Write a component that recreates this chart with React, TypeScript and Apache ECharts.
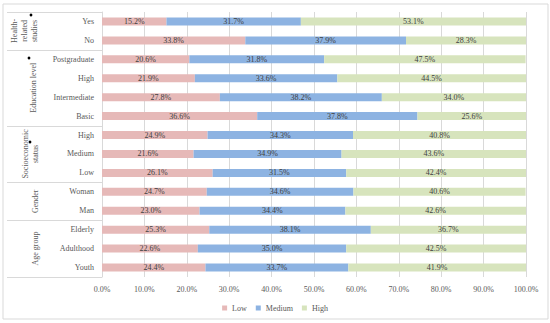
import React, { useEffect, useRef } from "react";
import * as echarts from "echarts";

const categories = [
  "Yes", "No",
  "Postgraduate", "High", "Intermediate", "Basic",
  "High", "Medium", "Low",
  "Woman", "Man",
  "Elderly", "Adulthood", "Youth",
];
const lowValues = [15.2, 33.8, 20.6, 21.9, 27.8, 36.6, 24.9, 21.6, 26.1, 24.7, 23.0, 25.3, 22.6, 24.4];
const mediumValues = [31.7, 37.9, 31.8, 33.6, 38.2, 37.8, 34.3, 34.9, 31.5, 34.6, 34.4, 38.1, 35.0, 33.7];
const highValues = [53.1, 28.3, 47.5, 44.5, 34.0, 25.6, 40.8, 43.6, 42.4, 40.6, 42.6, 36.7, 42.5, 41.9];
const seriesNames = ["Low", "Medium", "High"];
const groupNames = ["Health-\nrelated\nstudies", "Education level", "Socioeconomic\nstatus", "Gender", "Age group"];
const groupStarts = [0, 2, 6, 9, 11, 14];
const groupMarked = [true, true, true, false, false];
const xTicks = [0, 10, 20, 30, 40, 50, 60, 70, 80, 90, 100];

const FONT = "'Liberation Serif', 'Times New Roman', serif";
const COLORS = ["#e6b9b8", "#8db3e2", "#d7e4bd"];

export default function App() {
  const ref = useRef<HTMLDivElement>(null);
  useEffect(() => {
    if (!ref.current) return;
    const chart = echarts.init(ref.current, undefined, { renderer: "svg" });
    const W = 550, H = 323;
    const top = 12, bottom = 277, left = 102, right = 526;
    const band = (bottom - top) / categories.length;

    const graphics: any[] = [];
    graphics.push({
      type: "rect", shape: { x: 3, y: 4, width: 545, height: 315 },
      style: { fill: "none", stroke: "#d9d9d9", lineWidth: 1 }, silent: true,
    });
    groupStarts.forEach((k) => {
      const y = Math.round(top + k * band) + 0.5;
      graphics.push({
        type: "line", shape: { x1: 7, y1: y, x2: left, y2: y },
        style: { stroke: "#d9d9d9", lineWidth: 1 }, silent: true,
      });
    });
    const labelX = [24, 33, 30, 35, 35];
    const dotPos = [[31, 15], [29, 58], [30, 142]];
    groupNames.forEach((name, gi) => {
      const yc = top + ((groupStarts[gi] + groupStarts[gi + 1]) / 2) * band;
      graphics.push({
        type: "text", x: labelX[gi], y: yc, rotation: Math.PI / 2, silent: true,
        style: {
          text: name, fill: "#595959", font: `8px ${FONT}`,
          align: "center", verticalAlign: "middle", lineHeight: 10,
        },
      });
      if (groupMarked[gi]) {
        const [dx, dy] = dotPos[gi];
        graphics.push({
          type: "circle", shape: { cx: dx, cy: dy, r: 1.4 },
          style: { fill: "#000" }, silent: true,
        });
      }
    });

    const valueLists = [lowValues, mediumValues, highValues];
    chart.setOption({
      animation: false,
      textStyle: { fontFamily: FONT },
      grid: { left, right: W - right, top, bottom: H - bottom, containLabel: false },
      legend: {
        data: seriesNames, bottom: 6, left: "center", icon: "rect",
        itemWidth: 5, itemHeight: 5, itemGap: 9,
        textStyle: { fontSize: 8, color: "#595959", fontFamily: FONT },
      },
      xAxis: {
        type: "value", min: xTicks[0], max: xTicks[xTicks.length - 1], interval: 10,
        axisLine: { show: false }, axisTick: { show: false },
        splitLine: { lineStyle: { color: "#d9d9d9" } },
        axisLabel: {
          fontSize: 8, color: "#595959", margin: 8, fontFamily: FONT,
          formatter: (v: number) => `${v.toFixed(1)}%`,
        },
      },
      yAxis: {
        type: "category", data: categories, inverse: true,
        axisLine: { show: true, lineStyle: { color: "#d9d9d9" } },
        axisTick: { show: false },
        axisLabel: { fontSize: 8, color: "#595959", margin: 8, fontFamily: FONT },
      },
      series: seriesNames.map((name, si) => ({
        name, type: "bar", stack: "total", barWidth: 8,
        data: valueLists[si],
        itemStyle: { color: COLORS[si] },
        label: {
          show: true, position: "inside", fontSize: 8, color: "#404040", fontFamily: FONT,
          formatter: (p: any) => `${Number(p.value).toFixed(1)}%`,
        },
      })),
      graphic: graphics,
    });
    return () => chart.dispose();
  }, []);
  return <div ref={ref} style={{ width: 550, height: 323, position: "absolute", left: 0, top: 0 }} />;
}
